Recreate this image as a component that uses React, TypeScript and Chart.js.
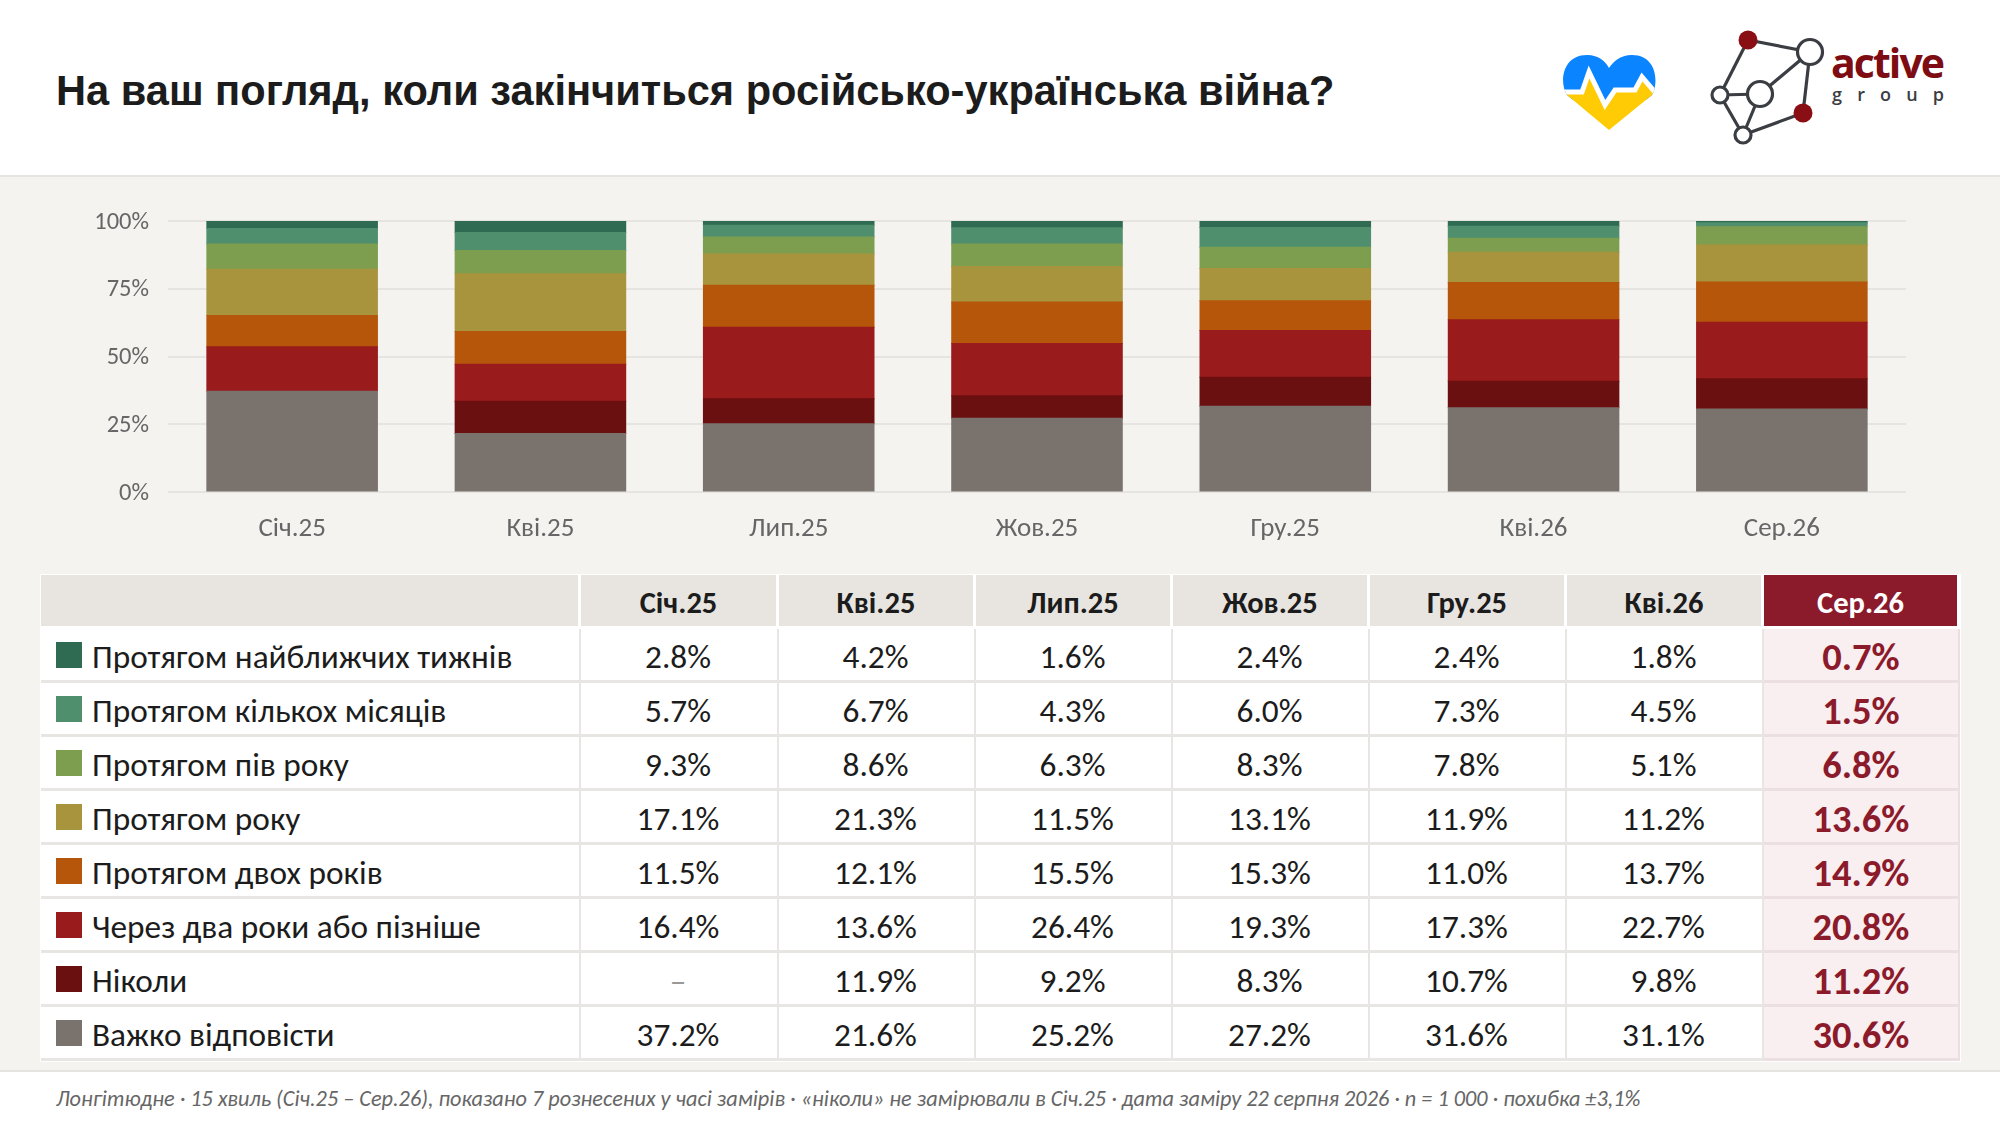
import React, { useEffect, useRef } from 'react';
import Chart from 'chart.js/auto';

const waves = ['Січ.25', 'Кві.25', 'Лип.25', 'Жов.25', 'Гру.25', 'Кві.26', 'Сер.26'];
const yTicks = [0, 25, 50, 75, 100];

const rowLabels = [
  'Протягом найближчих тижнів',
  'Протягом кількох місяців',
  'Протягом пів року',
  'Протягом року',
  'Протягом двох років',
  'Через два роки або пізніше',
  'Ніколи',
  'Важко відповісти',
];

const rowColors = ['#2e6b52', '#4f8f6d', '#7e9e4f', '#a9943e', '#b5560b', '#9a1b1b', '#6b1010', '#7a726c'];

const weeks = [2.8, 4.2, 1.6, 2.4, 2.4, 1.8, 0.7];
const months = [5.7, 6.7, 4.3, 6.0, 7.3, 4.5, 1.5];
const halfYear = [9.3, 8.6, 6.3, 8.3, 7.8, 5.1, 6.8];
const oneYear = [17.1, 21.3, 11.5, 13.1, 11.9, 11.2, 13.6];
const twoYears = [11.5, 12.1, 15.5, 15.3, 11.0, 13.7, 14.9];
const later = [16.4, 13.6, 26.4, 19.3, 17.3, 22.7, 20.8];
const never = [null, 11.9, 9.2, 8.3, 10.7, 9.8, 11.2];
const hardToSay = [37.2, 21.6, 25.2, 27.2, 31.6, 31.1, 30.6];

const rowValues = [weeks, months, halfYear, oneYear, twoYears, later, never, hardToSay];

const FONT = 'Carlito, Lato, sans-serif';
const ACCENT = '#8b1a2b';
const colWidths = [540, 198, 197, 197, 197, 197, 197, 196];

const Logos = () => (
  <svg width={440} height={140} viewBox="1540 20 440 140" style={{ position: 'absolute', left: 1540, top: 20 }}>
    <defs>
      <clipPath id="heart">
        <path d="M1609 130 L1567 95 C1559 83 1562 55 1587 55 C1599 55 1606 62 1609 68 C1613 62 1620 55 1632 55 C1657 55 1659 83 1652 95 Z" />
      </clipPath>
    </defs>
    <g clipPath="url(#heart)">
      <rect x={1555} y={50} width={110} height={50} fill="#0a84ff" />
      <polygon points="1555,92 1582,92 1589,72 1605,105 1615,90 1635,90 1642,77 1665,100 1665,135 1555,135" fill="#ffcb05" />
      <polyline points="1555,92 1582,92 1589,72 1605,105 1615,90 1635,90 1642,77 1660,98" fill="none" stroke="#fff" strokeWidth={5} />
    </g>
    <g stroke="#3a3d42" strokeWidth={3.2} fill="none">
      <line x1={1748} y1={40} x2={1810} y2={52} />
      <line x1={1748} y1={40} x2={1720} y2={95} />
      <line x1={1810} y1={52} x2={1760} y2={94} />
      <line x1={1810} y1={52} x2={1803} y2={113} />
      <line x1={1720} y1={95} x2={1760} y2={94} />
      <line x1={1720} y1={95} x2={1743} y2={135} />
      <line x1={1760} y1={94} x2={1743} y2={135} />
      <line x1={1743} y1={135} x2={1803} y2={113} />
      <circle cx={1810} cy={52} r={12.5} fill="#fff" />
      <circle cx={1760} cy={94} r={12.5} fill="#fff" />
      <circle cx={1720} cy={95} r={8} fill="#fff" />
      <circle cx={1743} cy={135} r={8} fill="#fff" />
    </g>
    <circle cx={1748} cy={40} r={9.5} fill="#8a0f14" />
    <circle cx={1803} cy={113} r={9.5} fill="#8a0f14" />
    <text x={1831} y={78} fontFamily="'Open Sans', sans-serif" fontWeight={700} fontSize={41} fill="#7d0d12" textLength={114}>active</text>
    <text x={1832} y={101} fontFamily="'Open Sans', sans-serif" fontWeight={600} fontSize={18} fill="#3a3d42" textLength={112}>group</text>
  </svg>
);

const App = () => {
  const chartRef = useRef<HTMLCanvasElement>(null);

  useEffect(() => {
    document.body.style.margin = '0';
    if (!chartRef.current) return;
    // bottom of the stack is the last row of the table
    const datasets = rowLabels
      .map((label, i) => ({
        label,
        data: rowValues[i],
        backgroundColor: rowColors[i],
        borderWidth: 0,
        inflateAmount: 0.5,
        categoryPercentage: 1,
        barPercentage: 0.687,
      }))
      .reverse();

    const chart = new Chart(chartRef.current, {
      type: 'bar',
      data: { labels: waves, datasets },
      options: {
        animation: false,
        responsive: false,
        layout: { padding: { top: 31, right: 54, left: 0, bottom: 0 } },
        plugins: { legend: { display: false }, tooltip: { enabled: false } },
        scales: {
          x: {
            stacked: true,
            grid: { display: false },
            border: { display: false },
            ticks: { color: '#666', font: { family: FONT, size: 27 }, padding: 13, maxRotation: 0 },
            afterFit: (scale: any) => { scale.height = 68; },
          },
          y: {
            stacked: true,
            min: 0,
            max: 100,
            afterBuildTicks: (scale: any) => { scale.ticks = yTicks.map((value) => ({ value })); },
            grid: { color: '#e6e4e0', lineWidth: 2, drawTicks: false },
            border: { display: false },
            ticks: { color: '#666', font: { family: FONT, size: 24.5 }, padding: 19, labelOffset: 1.5, callback: (v: any) => `${v}%` },
            // tick label overhang would otherwise push the plot top down
            afterFit: (scale: any) => { scale.width = 128; scale.paddingTop = 0; scale.paddingBottom = 0; },
          },
        },
      },
    });
    return () => chart.destroy();
  }, []);

  const lastCol = waves.length - 1;

  return (
    <div style={{ position: 'absolute', left: 0, top: 0, width: 2000, height: 1126, overflow: 'hidden', background: '#f4f3f0', fontFamily: FONT }}>
      <div style={{ position: 'absolute', left: 0, top: 0, width: 2000, height: 175, background: '#fff', borderBottom: '2px solid #e6e4e0' }} />
      <div style={{ position: 'absolute', left: 56, top: 2, height: 178, lineHeight: '178px', fontFamily: '"Liberation Sans", sans-serif', fontWeight: 700, fontSize: 41.6, color: '#1c1c1c', whiteSpace: 'nowrap' }}>
        На ваш погляд, коли закінчиться російсько-українська війна?
      </div>
      <Logos />

      <canvas ref={chartRef} width={1920} height={370} style={{ position: 'absolute', left: 40, top: 190, width: 1920, height: 370 }} />

      <table style={{ position: 'absolute', left: 41, top: 575, width: 1919, tableLayout: 'fixed', borderCollapse: 'separate', borderSpacing: 0, background: '#fff', boxShadow: '0 0 0 1px #fff' }}>
        <colgroup>
          {colWidths.map((w, i) => <col key={i} style={{ width: w }} />)}
        </colgroup>
        <thead>
          <tr style={{ height: 54 }}>
            <th style={{ background: '#e8e5e1', borderRight: '3px solid #fff', borderBottom: '3px solid #fff', padding: 0 }} />
            {waves.map((w, i) => (
              <th key={w} style={{
                background: i === lastCol ? ACCENT : '#e8e5e1',
                color: i === lastCol ? '#fff' : '#1c1c1c',
                borderRight: '3px solid #fff',
                borderBottom: '3px solid #fff',
                padding: '5px 0 0',
                fontSize: 30.5,
                lineHeight: '40px',
                fontWeight: 700,
              }}>{w}</th>
            ))}
          </tr>
        </thead>
        <tbody>
          {rowLabels.map((label, r) => (
            <tr key={label} style={{ height: 54 }}>
              <td style={{ position: 'relative', borderRight: '2px solid #e8e6e2', borderBottom: '3px solid #e8e6e2', padding: '5px 0 0 51px', fontSize: 33.3, lineHeight: '40px', color: '#1c1c1c', whiteSpace: 'nowrap' }}>
                <span style={{ position: 'absolute', left: 15, top: 13, width: 26, height: 26, background: rowColors[r] }} />
                {label}
              </td>
              {rowValues[r].map((v, i) => (
                <td key={i} style={{
                  textAlign: 'center',
                  padding: i === lastCol ? '5px 0 0' : '5px 2px 0 0',
                  lineHeight: '40px',
                  borderRight: i === lastCol ? '2px solid #ecdfe2' : '2px solid #e8e6e2',
                  borderBottom: i === lastCol ? '3px solid #ecdfe2' : '3px solid #e8e6e2',
                  background: i === lastCol ? '#f9eef0' : '#fff',
                  color: i === lastCol ? ACCENT : v === null ? '#999' : '#1c1c1c',
                  fontSize: i === lastCol ? 38.5 : 33.3,
                  fontWeight: i === lastCol ? 700 : 400,
                }}>{v === null ? '–' : `${v.toFixed(1)}%`}</td>
              ))}
            </tr>
          ))}
        </tbody>
      </table>

      <div style={{ position: 'absolute', left: 0, top: 1070, width: 2000, height: 56, background: '#fff', borderTop: '2px solid #e6e4e0', boxSizing: 'border-box' }} />
      <div style={{ position: 'absolute', left: 56, top: 1072, height: 54, lineHeight: '54px', fontSize: 22.25, fontStyle: 'italic', color: '#666', whiteSpace: 'nowrap' }}>
        Лонгітюдне · 15 хвиль (Січ.25 – Сер.26), показано 7 рознесених у часі замірів · «ніколи» не замірювали в Січ.25 · дата заміру 22 серпня 2026 · n = 1 000 · похибка ±3,1%
      </div>
    </div>
  );
};

export default App;
